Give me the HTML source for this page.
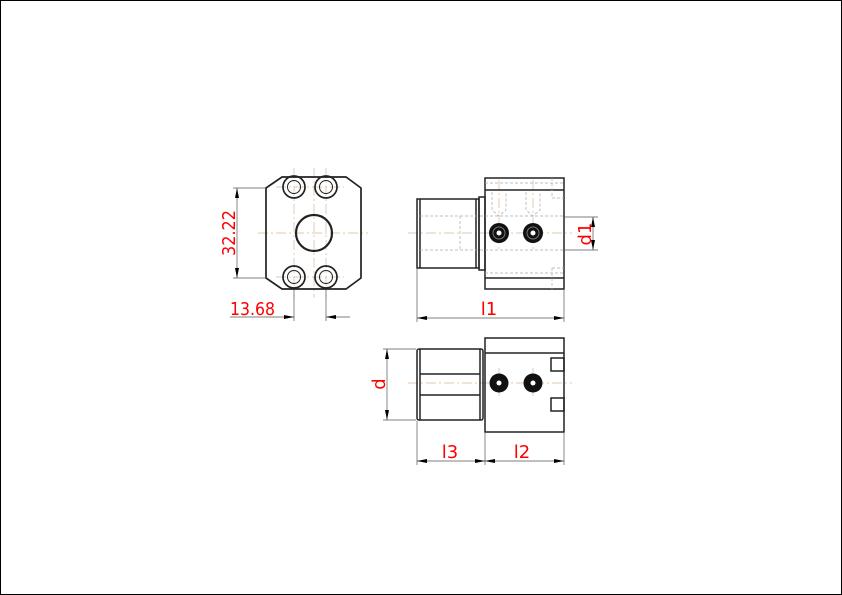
<!DOCTYPE html>
<html><head><meta charset="utf-8"><style>
html,body{margin:0;padding:0;background:#fff;}
svg{display:block;}
text{font-family:"Liberation Sans Narrow","DejaVu Sans","Liberation Sans",sans-serif;fill:#f00;font-size:18px;}
</style></head><body>
<svg width="842" height="595" viewBox="0 0 842 595" xmlns="http://www.w3.org/2000/svg">
<rect x="0.5" y="0.5" width="841" height="594" fill="none" stroke="#000" stroke-width="1"/>
<defs>
<marker id="a" viewBox="0 0 10 4" refX="10" refY="2" markerWidth="10" markerHeight="4" orient="auto-start-reverse" markerUnits="userSpaceOnUse"><path d="M0,0 L10,2 L0,4z" fill="#000"/></marker>
</defs>
<g stroke="#d9b99a" stroke-width="0.7" stroke-dasharray="10,3,2,3" fill="none">
<line x1="258" y1="233" x2="368" y2="233"/>
<line x1="294" y1="168" x2="294" y2="298"/>
<line x1="314" y1="168" x2="314" y2="298"/>
<line x1="326" y1="168" x2="326" y2="298"/>
<line x1="276" y1="187" x2="344" y2="187"/>
<line x1="276" y1="277" x2="344" y2="277"/>
<line x1="408" y1="233" x2="572" y2="233"/>
<line x1="499" y1="180" x2="499" y2="250"/>
<line x1="533" y1="180" x2="533" y2="250"/>
<line x1="408" y1="383" x2="572" y2="383"/>
<line x1="499" y1="368" x2="499" y2="398"/>
<line x1="533" y1="368" x2="533" y2="398"/>
</g>
<g stroke="#222" stroke-width="1.7" fill="none">
<path d="M282,177 L346,177 L361,188 L361,278 L346,289 L282,289 L266,278 L266,188 Z"/>
<circle cx="314" cy="233" r="18" stroke-width="2.2"/>
<circle cx="294" cy="187" r="11"/><circle cx="294" cy="187" r="6.5" stroke-width="1"/>
<circle cx="326" cy="187" r="11"/><circle cx="326" cy="187" r="6.5" stroke-width="1"/>
<circle cx="294" cy="277" r="11"/><circle cx="294" cy="277" r="6.5" stroke-width="1"/>
<circle cx="326" cy="277" r="11"/><circle cx="326" cy="277" r="6.5" stroke-width="1"/>
</g>
<g stroke="#222" stroke-width="1.5" fill="none">
<rect x="485" y="178" width="79" height="111"/>
<line x1="485" y1="190" x2="564" y2="190"/>
<line x1="485" y1="278" x2="564" y2="278"/>
<rect x="417" y="199" width="62" height="69"/>
<line x1="420" y1="199" x2="420" y2="268"/>
<line x1="476" y1="199" x2="476" y2="268"/>
<rect x="479" y="197" width="6" height="73"/>
</g>
<g stroke="#aaa" stroke-width="0.7" stroke-dasharray="3,2" fill="none">
<line x1="420" y1="216" x2="485" y2="216"/><line x1="420" y1="250" x2="485" y2="250"/>
<line x1="460" y1="216" x2="460" y2="250"/>
<line x1="485" y1="216" x2="564" y2="216"/><line x1="485" y1="250" x2="564" y2="250"/>
<line x1="485" y1="183" x2="564" y2="183"/><line x1="485" y1="273" x2="564" y2="273"/>
<line x1="552" y1="178" x2="552" y2="198"/><line x1="552" y1="268" x2="552" y2="289"/>
<line x1="552" y1="198" x2="564" y2="198"/><line x1="552" y1="268" x2="564" y2="268"/>
<path d="M492,192 L492,210 L499,216 L506,210 L506,192"/>
<path d="M526,192 L526,210 L533,216 L540,210 L540,192"/>
</g>
<g>
<circle cx="499" cy="233" r="10" fill="#111"/><circle cx="499" cy="233" r="6" fill="none" stroke="#777" stroke-width="1"/><circle cx="499" cy="233" r="2.5" fill="#fff"/>
<circle cx="533" cy="233" r="10" fill="#111"/><circle cx="533" cy="233" r="6" fill="none" stroke="#777" stroke-width="1"/><circle cx="533" cy="233" r="2.5" fill="#fff"/>
</g>
<g stroke="#222" stroke-width="1.5" fill="none">
<rect x="485" y="338" width="79" height="94"/>
<line x1="485" y1="353" x2="564" y2="353"/>
<rect x="417" y="349" width="66" height="71" rx="2"/>
<line x1="420" y1="349" x2="420" y2="420"/>
<line x1="480" y1="349" x2="480" y2="420"/>
<path d="M420,374 L480,374 M420,395 L480,395"/>
<rect x="551" y="358" width="13" height="13"/>
<rect x="551" y="398" width="13" height="13"/>
</g>
<circle cx="499" cy="383" r="9.5" fill="#111"/><circle cx="499" cy="383" r="2.5" fill="#fff"/>
<circle cx="533" cy="383" r="9.5" fill="#111"/><circle cx="533" cy="383" r="2.5" fill="#fff"/>
<g stroke="#555" stroke-width="0.7" fill="none">
<line x1="233" y1="188" x2="266" y2="188"/><line x1="233" y1="278" x2="266" y2="278"/>
<line x1="237" y1="188" x2="237" y2="278" marker-start="url(#a)" marker-end="url(#a)"/>
<line x1="294" y1="290" x2="294" y2="321"/><line x1="326" y1="290" x2="326" y2="321"/>
<line x1="230" y1="317" x2="294" y2="317" marker-end="url(#a)"/>
<line x1="350" y1="317" x2="326" y2="317" marker-end="url(#a)"/>
<line x1="417" y1="269" x2="417" y2="322"/><line x1="564" y1="290" x2="564" y2="322"/>
<line x1="417" y1="318" x2="564" y2="318" marker-start="url(#a)" marker-end="url(#a)"/>
<line x1="565" y1="217" x2="598" y2="217"/><line x1="565" y1="250" x2="598" y2="250"/>
<line x1="593" y1="217" x2="593" y2="250" marker-start="url(#a)" marker-end="url(#a)"/>
<line x1="383" y1="349" x2="416" y2="349"/><line x1="383" y1="420" x2="416" y2="420"/>
<line x1="387" y1="349" x2="387" y2="420" marker-start="url(#a)" marker-end="url(#a)"/>
<line x1="417" y1="421" x2="417" y2="465"/><line x1="485" y1="433" x2="485" y2="465"/><line x1="564" y1="433" x2="564" y2="465"/>
<line x1="417" y1="461" x2="485" y2="461" marker-start="url(#a)" marker-end="url(#a)"/>
<line x1="485" y1="461" x2="564" y2="461" marker-start="url(#a)" marker-end="url(#a)"/>
</g>
<text x="230" y="315" textLength="45" lengthAdjust="spacingAndGlyphs">13.68</text>
<text transform="translate(235,233) rotate(-90)" text-anchor="middle" textLength="46" lengthAdjust="spacingAndGlyphs">32.22</text>
<text x="489" y="315" text-anchor="middle">l1</text>
<text transform="translate(591,234) rotate(-90)" text-anchor="middle">d1</text>
<text transform="translate(385,384) rotate(-90)" text-anchor="middle">d</text>
<text x="450" y="458" text-anchor="middle">l3</text>
<text x="522" y="458" text-anchor="middle">l2</text>
</svg>
</body></html>
